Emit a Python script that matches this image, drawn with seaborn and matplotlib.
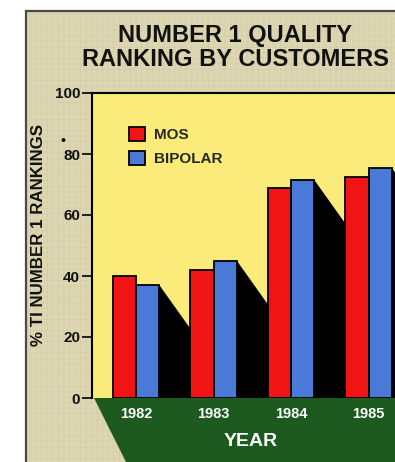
import matplotlib
matplotlib.use("Agg")
import matplotlib.pyplot as plt
from matplotlib.patches import Rectangle, Polygon, Patch
import pandas as pd
import seaborn as sns

# --- data -------------------------------------------------------------
years = ["1982", "1983", "1984", "1985"]
series = ["MOS", "BIPOLAR"]
mos = [40, 42, 69, 72.5]
bipolar = [37, 45, 71.5, 75.5]
y_ticks = [0, 20, 40, 60, 80, 100]

# --- style ------------------------------------------------------------
TAN = "#DDD6B2"
TAN_GRAIN = "#D2CAA4"
YELLOW = "#FAEB7A"
GREEN = "#1C5A1F"
RED = "#F01414"
BLUE = "#4A7AD8"
INK = "#111111"

sns.set_style("white")
plt.rcParams["font.family"] = ["Liberation Sans", "DejaVu Sans"]
plt.rcParams["font.weight"] = "bold"
plt.rcParams["hatch.linewidth"] = 0.35

W, H = 395, 462
fig = plt.figure(figsize=(W / 100, H / 100), dpi=100, facecolor="white")


def fx(px):
    return px / W


def fy(py):
    return 1 - py / H


# tan card behind the whole chart, with a fine screen texture
card = dict(xy=(fx(26), -0.1), width=1.2, height=fy(11) + 0.1,
            transform=fig.transFigure)
fig.add_artist(Rectangle(**card, facecolor=TAN, edgecolor="none", zorder=-4))
fig.add_artist(Rectangle(**card, facecolor="none", edgecolor=TAN_GRAIN,
                         lw=0, hatch="+++", zorder=-3.5))
fig.add_artist(Rectangle(**card, facecolor="none", edgecolor="#4a4a46",
                         lw=1.6, zorder=-3))

# green floor under the baseline
fig.add_artist(Polygon([(fx(94), fy(398)), (1.05, fy(398)),
                        (1.05, fy(472)), (fx(131), fy(472))],
                       closed=True, transform=fig.transFigure,
                       facecolor=GREEN, edgecolor="none", zorder=-2))

# --- plot area --------------------------------------------------------
ax = fig.add_axes([fx(92), fy(398), 1 - fx(92) + 0.02, fy(93) - fy(398)])
ax.set_facecolor(YELLOW)

df = pd.DataFrame({
    "year": years * 2,
    "series": [series[0]] * len(years) + [series[1]] * len(years),
    "value": mos + bipolar,
})
sns.barplot(data=df, x="year", y="value", hue="series", hue_order=series,
            palette=[RED, BLUE], width=0.6, saturation=1,
            edgecolor="black", linewidth=1.3, legend=False, ax=ax, zorder=2)

# cast shadows trailing each group to the right
drop = 15
for i, v in enumerate(bipolar):
    x0 = i + 0.3
    ax.add_patch(Polygon([(x0, v), (x0 + 0.42, v - drop), (x0 + 0.42, 0), (x0, 0)],
                         closed=True, facecolor="black", edgecolor="none", zorder=1))

ax.set_xlim(-0.57, 3.444)
ax.set_ylim(0, 100)
ax.set_yticks(y_ticks)
ax.set_yticklabels([str(t) for t in y_ticks])

ax.tick_params(axis="y", length=7, width=1.2, color="black", pad=1.5,
               labelsize=11, labelcolor=INK, direction="out", left=True)
ax.tick_params(axis="x", length=0, pad=6.5, labelsize=10.5, labelcolor="white")
for lab in ax.get_xticklabels() + ax.get_yticklabels():
    lab.set_fontweight("bold")

for side in ("right", "bottom"):
    ax.spines[side].set_visible(False)
for side in ("left", "top"):
    ax.spines[side].set_color("black")
    ax.spines[side].set_linewidth(1.5)

ax.set_xlabel("YEAR", fontsize=14, fontweight="bold", color="white")
ax.xaxis.set_label_coords((247 - 92) / 303, (398 - 442) / 305)
ax.xaxis.label.set_va("center")

ax.set_ylabel("% TI NUMBER 1 RANKINGS", fontsize=12.2, fontweight="bold", color=INK)
ax.yaxis.set_label_coords((40 - 92) / 303, (398 - 234.5) / 305)
ax.yaxis.label.set_va("center")

handles = [Patch(facecolor=c, edgecolor="black", lw=1.3, label=s)
           for c, s in zip([RED, BLUE], series)]
ax.legend(handles=handles, loc="upper left",
          bbox_to_anchor=((128 - 92) / 303, (398 - 127) / 305),
          frameon=False, borderpad=0, borderaxespad=0,
          handlelength=1.05, handleheight=1.05, handletextpad=0.6,
          labelspacing=0.55, prop={"weight": "bold", "size": 11})

fig.text(fx(235), fy(47.5), "NUMBER 1 QUALITY\nRANKING BY CUSTOMERS",
         ha="center", va="center", fontsize=17, fontweight="bold",
         color=INK, linespacing=1.05)
fig.text(fx(62.5), fy(141), "\u2022", ha="center", va="center",
         fontsize=10, color=INK)

fig.savefig("out.png", dpi=100, facecolor="white")
